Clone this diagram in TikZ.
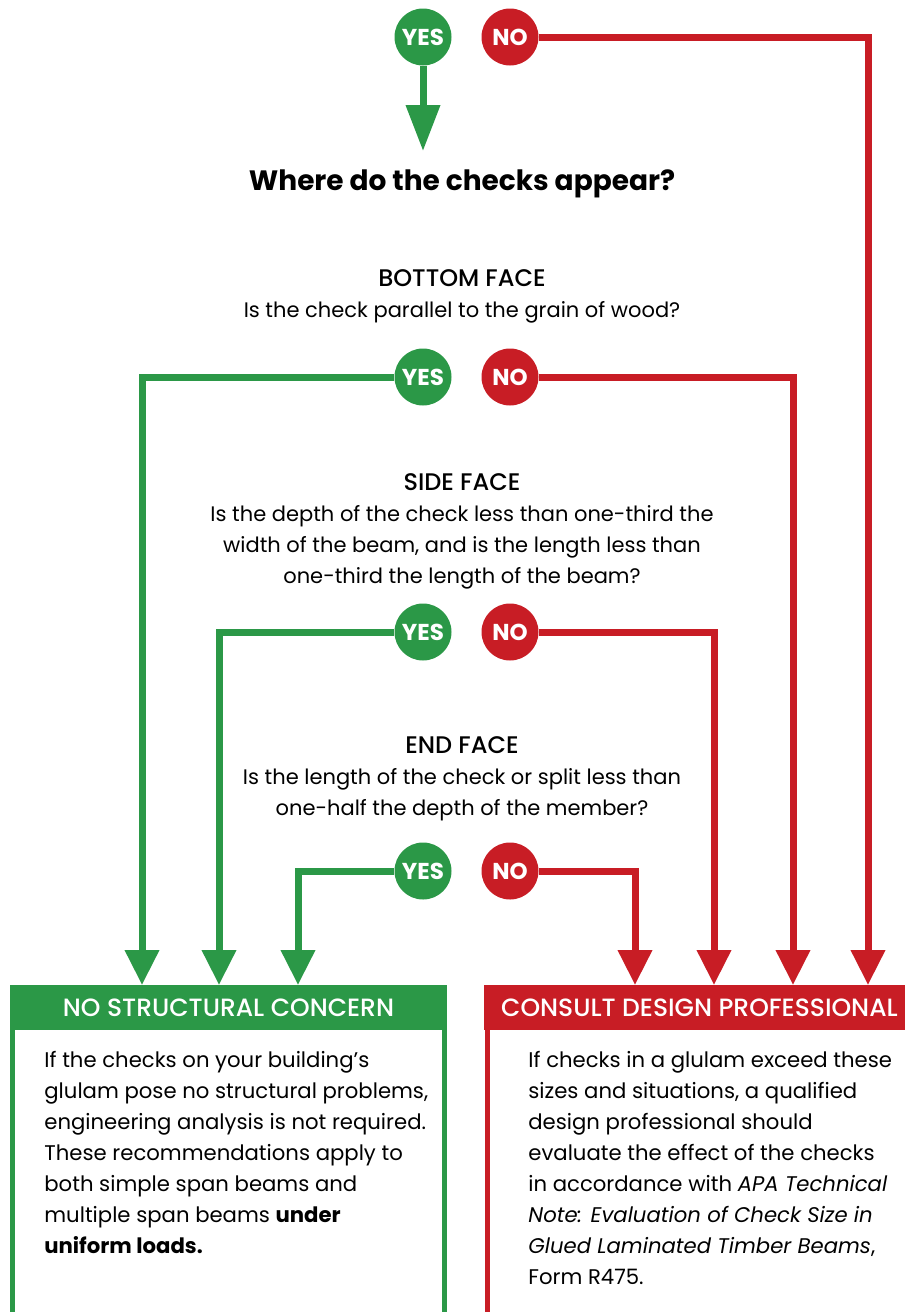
\documentclass[tikz,border=0pt]{standalone}
\usepackage{fontspec}
\setmainfont{Poppins}
\newfontfamily\medfont{Poppins Medium}
\newcommand\facefont{\medfont\fontsize{12}{15.5}\selectfont}
\usetikzlibrary{arrows.meta,positioning}
\definecolor{chkgreen}{RGB}{43,152,71}
\definecolor{chkred}{RGB}{200,29,37}

\begin{document}
\begin{tikzpicture}[x=0.5pt,y=-0.5pt,
    dot/.style={circle,minimum size=28.5pt,inner sep=0pt,text=white,font=\bfseries\fontsize{11.5}{13}\selectfont},
    yesdot/.style={dot,fill=chkgreen},
    nodot/.style={dot,fill=chkred},
    gline/.style={chkgreen,line width=3.5pt},
    rline/.style={chkred,line width=3.5pt},
    bigtip/.style={-{Triangle[width=16.5pt,length=23pt]}},
    boxtip/.style={-{Triangle[width=16.5pt,length=17.5pt]}},
    question/.style={align=center,font=\fontsize{10.5}{15.5}\selectfont},
    headbox/.style={inner sep=0pt,text=white,font=\medfont\fontsize{12.5}{14}\selectfont},
    bodytext/.style={align=left,inner sep=0pt,font=\fontsize{10.6}{15.5}\selectfont}]
  \useasboundingbox (0,0) rectangle (905,1312);
  % decision dots
  \node[yesdot] (yes0) at (423,37) {YES};
  \node[nodot] (no0) at (510,37) {NO};
  \node[yesdot] (yes1) at (423,377) {YES};
  \node[nodot] (no1) at (510,377) {NO};
  \node[yesdot] (yes2) at (423,632) {YES};
  \node[nodot] (no2) at (510,632) {NO};
  \node[yesdot] (yes3) at (423,871) {YES};
  \node[nodot] (no3) at (510,871) {NO};
  % questions
  \node[font=\bfseries\fontsize{14}{17}\selectfont] (where) at (462,184) {Where do the checks appear?};
  \node[question] (bottom) at (462,296.5) {{\facefont BOTTOM FACE}\\Is the check parallel to the grain of wood?};
  \node[question] (side) at (462,531) {{\facefont SIDE FACE}\\Is the depth of the check less than one-third the\\width of the beam, and is the length less than\\one-third the length of the beam?};
  \node[question] (endface) at (462,778.5) {{\facefont END FACE}\\Is the length of the check or split less than\\one-half the depth of the member?};
  % result boxes
  \node[headbox,fill=chkgreen,minimum width=218.5pt,minimum height=22.5pt] (okhead) at (228.5,1007.5) {NO STRUCTURAL CONCERN};
  \node[headbox,fill=chkred,minimum width=215.5pt,minimum height=22.5pt] (cdhead) at (699.5,1007.5) {CONSULT DESIGN PROFESSIONAL};
  \draw[chkgreen,line width=2.5pt] (12.5,1025) rectangle (444.5,1318);
  \draw[chkred,line width=2.5pt] (487,1025) rectangle (920,1318);
  \node[bodytext,anchor=north west] (oktext) at (44,1051) {If the checks on your building’s\\glulam pose no structural problems,\\engineering analysis is not required.\\These recommendations apply to\\both simple span beams and\\multiple span beams \textbf{under}\\\textbf{uniform loads.}};
  \node[bodytext,anchor=north west] (cdtext) at (528,1051) {If checks in a glulam exceed these\\sizes and situations, a qualified\\design professional should\\evaluate the effect of the checks\\in accordance with \textit{APA Technical}\\\textit{Note: Evaluation of Check Size in}\\\textit{Glued Laminated Timber Beams},\\Form R475.};
  % arrow ends
  \coordinate (q0) at (423,151);
  \coordinate (ok1) at (142,985);
  \coordinate (ok2) at (219,985);
  \coordinate (ok3) at (298,985);
  \coordinate (cd1) at (635,985);
  \coordinate (cd2) at (714,985);
  \coordinate (cd3) at (793,985);
  \coordinate (cd4) at (868,985);
  \draw[gline,bigtip] (yes0.south) -- (q0);
  \draw[gline,boxtip] (yes1.west) -| (ok1);
  \draw[gline,boxtip] (yes2.west) -| (ok2);
  \draw[gline,boxtip] (yes3.west) -| (ok3);
  \draw[rline,boxtip] (no3.east) -| (cd1);
  \draw[rline,boxtip] (no2.east) -| (cd2);
  \draw[rline,boxtip] (no1.east) -| (cd3);
  \draw[rline,boxtip] (no0.east) -| (cd4);
\end{tikzpicture}
\end{document}
